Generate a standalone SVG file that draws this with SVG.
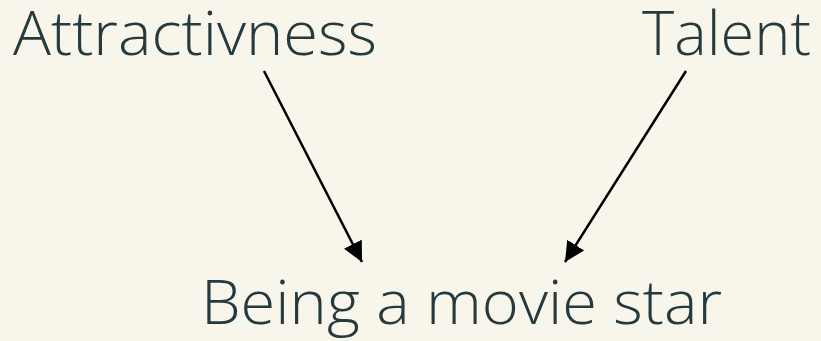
<svg xmlns="http://www.w3.org/2000/svg" width="821" height="341" viewBox="0 0 821 341">
<style>
.lbl{font-family:"Open Sans","Liberation Sans",sans-serif;font-weight:300;font-size:60px;fill:#253a3e}
.edge{stroke:#000;stroke-width:2.5;fill:none;marker-end:url(#ah)}
</style>
<defs>
<marker id="ah" viewBox="0 0 10 10" refX="10" refY="5" markerWidth="8" markerHeight="8" markerUnits="strokeWidth" orient="auto">
<path d="M0,0 L10,5 L0,10 z" fill="#000"/>
</marker>
</defs>
<rect width="821" height="341" fill="#f8f5eb"/>
<g id="edges">
<line class="edge" x1="264" y1="71" x2="362" y2="262"/>
<line class="edge" x1="686" y1="71" x2="565" y2="262"/>
</g>
<g id="attractivness"><text class="lbl" x="13" y="55" textLength="364" lengthAdjust="spacingAndGlyphs">Attractivness</text></g>
<g id="talent"><text class="lbl" x="642" y="55" textLength="169" lengthAdjust="spacingAndGlyphs">Talent</text></g>
<g id="moviestar"><text class="lbl" x="201" y="324" textLength="521" lengthAdjust="spacingAndGlyphs">Being a movie star</text></g>
</svg>
